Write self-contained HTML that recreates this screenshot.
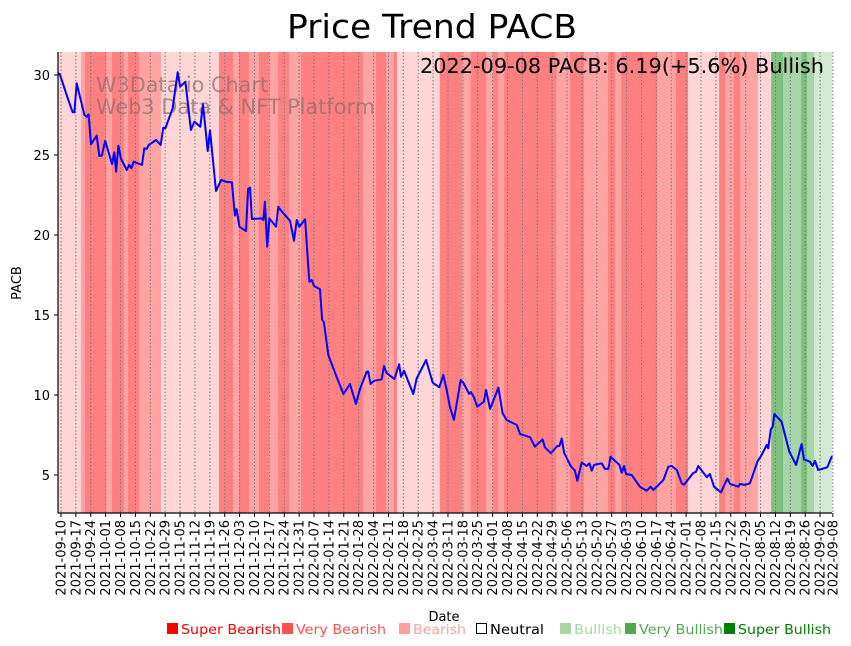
<!DOCTYPE html>
<html><head><meta charset="utf-8"><style>
body{margin:0;background:#fff;}
svg{display:block;font-family:"DejaVu Sans","Liberation Sans",sans-serif;}
</style></head><body>
<svg id="chart" width="851" height="646" viewBox="0 0 851 646" xmlns="http://www.w3.org/2000/svg">
<rect width="851" height="646" fill="#fff"/>
<text x="287" y="38" font-size="33" textLength="290" lengthAdjust="spacingAndGlyphs" fill="#000">Price Trend PACB</text>
<g id="bands"></g>
<g id="grid"></g>
<g id="wm">
<text x="96" y="92" font-size="21" textLength="172" lengthAdjust="spacingAndGlyphs" fill="#8b6b6b" fill-opacity="0.7">W3Data.io Chart</text>
<text x="96" y="114" font-size="21" textLength="279" lengthAdjust="spacingAndGlyphs" fill="#8b6b6b" fill-opacity="0.7">Web3 Data &amp; NFT Platform</text>
</g>
<path id="line" fill="none" stroke="#0000ff" stroke-width="2" stroke-linejoin="round"/>
<text x="420" y="73" font-size="20" textLength="404" lengthAdjust="spacingAndGlyphs" fill="#000">2022-09-08 PACB: 6.19(+5.6%) Bullish</text>
<g id="axes"></g>
<text x="444" y="621" text-anchor="middle" font-size="13">Date</text>
<text transform="translate(21,283) rotate(-90)" text-anchor="middle" font-size="13">PACB</text>
<g id="legend"></g>
</svg>
<script>
// data (day index from first data point 2021-09-09, value)
const priceDays=[0,0.9,4.6,6.9,7.7,8.8,12.4,13.5,14.4,15.5,18.2,19.4,20.6,22.2,25.4,26.5,27.3,28.4,29.6,32.3,33.5,34.5,35.6,39.5,40.6,41.7,42.7,46.1,48.3,49.5,50.5,53.9,56.3,57.4,59.9,62.5,64.1,66.9,68.2,70.4,71.5,74.3,76.7,79.0,81.8,83.2,84.0,85.3,88.4,89.4,90.3,91.2,95.8,96.6,97.3,98.4,99.4,102.5,103.6,104.7,109.1,111.0,112.3,113.5,116.2,118.2,119.3,120.4,123.2,124.2,125.1,127.1,130.7,134.2,137.3,140.1,142.0,145.2,145.9,147.0,148.6,152.2,153.3,154.6,158.2,160.4,161.3,162.7,167.1,168.7,173.1,176.2,179.3,181.2,182.8,184.3,186.2,189.4,190.6,193.4,194.2,195.6,197.2,200.3,201.3,203.2,207.1,209.1,211.0,215.7,217.3,222.0,224.3,227.9,229.0,231.8,234.8,235.8,236.9,238.0,241.1,243.1,244.2,246.3,248.6,249.9,251.0,252.1,255.7,257.2,258.8,259.9,264.0,265.1,266.2,267.1,269.8,273.4,274.0,276.9,278.7,280.0,284.7,287.0,288.6,291.0,293.3,294.4,298.8,300.0,301.1,305.1,306.6,308.5,311.8,314.8,316.1,320.0,320.7,323.1,325.4,328.9,330.9,333.3,334.0,335.2,336.1,336.9,340.3,343.9,347.1,349.7,350.8,353.6,354.9,356.0,357.5,361.8,364];
const priceValues=[30.11,30.04,28.54,27.67,27.67,29.48,27.5,27.39,27.54,25.67,26.21,24.94,24.96,25.88,24.44,25.17,23.96,25.58,24.79,24.06,24.38,24.17,24.58,24.38,25.42,25.38,25.63,25.94,25.63,26.71,26.67,27.92,30.17,29.27,29.58,26.56,27.08,26.77,28.17,25.25,26.54,22.75,23.44,23.33,23.29,21.21,21.61,20.52,20.25,22.88,22.96,21.0,21.04,20.94,22.08,19.27,21.04,20.52,21.77,21.56,20.89,19.64,20.94,20.52,20.98,17.08,17.19,16.81,16.61,14.73,14.52,12.5,11.25,10.06,10.69,9.44,10.36,11.46,11.46,10.69,10.89,10.98,11.81,11.36,11.0,11.92,11.14,11.52,10.06,11.04,12.19,10.77,10.48,11.25,10.31,9.27,8.44,10.94,10.77,10.06,10.19,9.86,9.27,9.58,10.31,9.13,10.46,8.86,8.44,8.13,7.56,7.36,6.77,7.23,6.73,6.36,6.81,6.81,7.29,6.39,5.56,5.27,4.64,5.79,5.56,5.73,5.27,5.63,5.73,5.38,5.38,6.14,5.63,5.14,5.56,5.06,5.0,4.31,4.23,4.02,4.27,4.06,4.69,5.52,5.56,5.31,4.48,4.39,5.14,5.19,5.56,4.86,5.06,4.27,3.92,4.79,4.44,4.27,4.44,4.38,4.48,5.83,6.25,6.88,6.67,7.86,8.02,8.81,8.33,6.46,5.63,6.94,5.98,5.83,5.56,5.89,5.31,5.48,6.19];
const bandStarts=[0,10.8,12.7,22.6,25.4,31,32.9,38.1,48.4,75.7,82.3,85.1,89.8,94.5,99.2,103.5,108.6,114.3,143.4,149.5,154.3,158,159.4,179.6,190,194.2,201.3,204.6,207,209.8,234.3,240.8,247.4,258.7,262,264.8,281.7,290.6,296.3,310.9,313.7,317.9,320.8,329.2,335.4,341,349.5,352.3,355.6];
const bandLevels=["L","M","D","M","D","M","D","M","L","D","M","D","M","D","M","D","M","D","M","D","M","D","L","D","M","D","M","D","M","D","M","D","M","D","M","D","M","D","L","D","M","D","M","L","G3","G2","G3","G2","G1"];
const tickLabels=["2021-09-10","2021-09-17","2021-09-24","2021-10-01","2021-10-08","2021-10-15","2021-10-22","2021-10-29","2021-11-05","2021-11-12","2021-11-19","2021-11-26","2021-12-03","2021-12-10","2021-12-17","2021-12-24","2021-12-31","2022-01-07","2022-01-14","2022-01-21","2022-01-28","2022-02-04","2022-02-11","2022-02-18","2022-02-25","2022-03-04","2022-03-11","2022-03-18","2022-03-25","2022-04-01","2022-04-08","2022-04-15","2022-04-22","2022-04-29","2022-05-06","2022-05-13","2022-05-20","2022-05-27","2022-06-03","2022-06-10","2022-06-17","2022-06-24","2022-07-01","2022-07-08","2022-07-15","2022-07-22","2022-07-29","2022-08-05","2022-08-12","2022-08-19","2022-08-26","2022-09-02","2022-09-08"];
const yTicks=[5,10,15,20,25,30];
const legendLabels=["Super Bearish","Very Bearish","Bearish","Neutral","Bullish","Very Bullish","Super Bullish"];
const legendColors=["#ff0000","#ff5050","#ffa0a0","none","#a8d5a8","#50a850","#008000"];
const legendX=[167,282,399,476,560,625,724];
const legendW=[100,90,53,54,48,84,93];

const NS="http://www.w3.org/2000/svg";
const X0=58,X1=832,Y0=52,Y1=513,DMAX=364;
const xS=d=>X0+d*(X1-X0)/DMAX;
const yS=v=>555-v*16;
const levelColor={L:"#ffd5d5",M:"#ffa3a3",D:"#ff8080",G1:"#d5ead5",G2:"#a8d5a8",G3:"#80c080"};
function mk(t,a,p){const e=document.createElementNS(NS,t);for(const k in a)e.setAttribute(k,a[k]);p.appendChild(e);return e;}

const bands=document.getElementById('bands');
bandStarts.forEach((s,i)=>{
  const e=i+1<bandStarts.length?bandStarts[i+1]:DMAX;
  const r=mk('rect',{x:xS(s),y:Y0,width:xS(e)-xS(s)+0.3,height:Y1-Y0,fill:levelColor[bandLevels[i]]},bands);
  
  
});

const grid=document.getElementById('grid'),axes=document.getElementById('axes');
function dateDay(s){return (Date.parse(s)-Date.parse("2021-09-09"))/86400000;}
tickLabels.forEach(lab=>{
  const x=xS(dateDay(lab)+0.4);
  const g=mk('line',{x1:x,x2:x,y1:Y0,y2:Y1,stroke:"#777",'stroke-width':1,'stroke-dasharray':"1.5,2"},grid);
  
  
  mk('line',{x1:x,x2:x,y1:Y1,y2:Y1+4,stroke:"#000"},axes);
  const t=mk('text',{transform:`translate(${x+4.5},${Y1+7}) rotate(-90)`,'text-anchor':'end','font-size':13},axes);
  t.textContent=lab;
  
  
});
yTicks.forEach(v=>{
  const y=yS(v);
  mk('line',{x1:X0-4,x2:X0,y1:y,y2:y,stroke:"#000"},axes);
  const t=mk('text',{x:X0-8,y:y+5,'text-anchor':'end','font-size':13},axes);
  t.textContent=v;
  
  
});
mk('line',{x1:X0,x2:X0,y1:Y0,y2:Y1,stroke:"#000",'stroke-width':1.2},axes);
mk('line',{x1:X0,x2:X1,y1:Y1,y2:Y1,stroke:"#000",'stroke-width':1.2},axes);

document.getElementById('line').setAttribute('d',priceDays.map((d,i)=>(i?'L':'M')+xS(d).toFixed(1)+','+yS(priceValues[i]).toFixed(1)).join(''));

const leg=document.getElementById('legend');
legendLabels.forEach((lab,i)=>{
  const x=legendX[i];
  const g=mk('g',{},leg);
  
  
  const c=legendColors[i];
  mk('rect',c==='none'?{x:x+0.5,y:623.5,width:10,height:10,fill:'none',stroke:'#000'}:{x:x,y:623,width:11,height:11,fill:c},g);
  const t=mk('text',{x:x+14,y:634,'font-size':13,textLength:legendW[i],lengthAdjust:'spacingAndGlyphs',fill:c==='none'?'#000':c},g);
  t.textContent=lab;
});
</script>
</body></html>
